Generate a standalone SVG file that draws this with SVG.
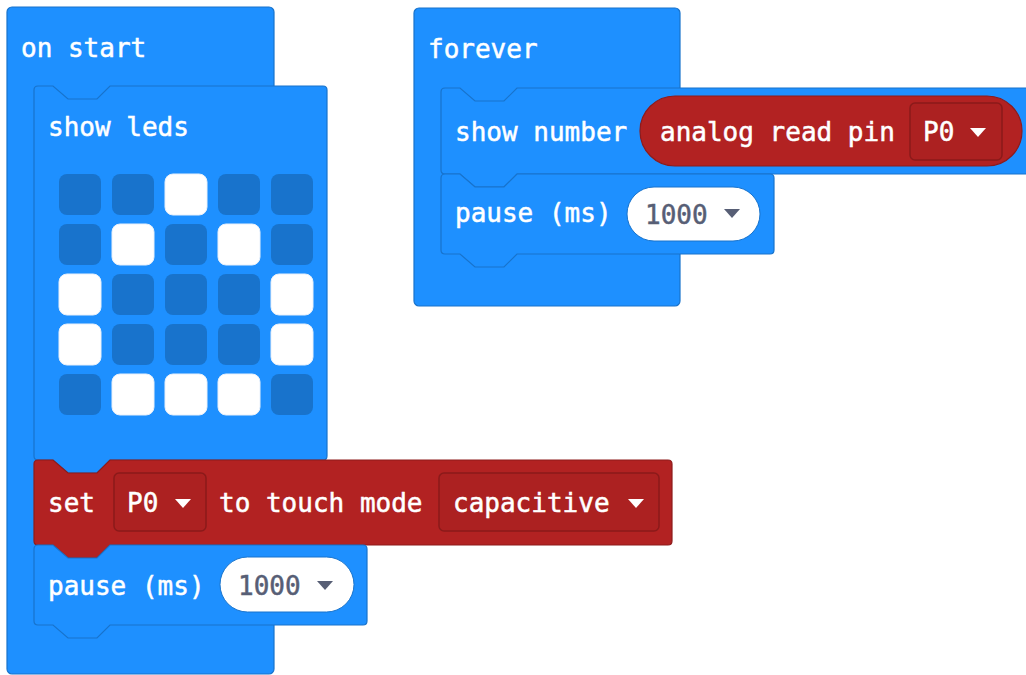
<svg xmlns="http://www.w3.org/2000/svg" width="1026" height="675" viewBox="0 0 1026 675">
<style>
.blue{fill:#1E90FF;stroke:#1873CC;stroke-width:1.2}
.red{fill:#B22222;stroke:#8E1B1B;stroke-width:1.2}
.dd{fill:#AC2121;stroke:#8B1A1A;stroke-width:1.5}
.pill{fill:#FFFFFF;stroke:#1873CC;stroke-width:1}
.t{font-family:"DejaVu Sans Mono","Liberation Mono",monospace;font-size:26px;fill:#FFFFFF;stroke:#FFFFFF;stroke-width:0.5}
.n{font-family:"DejaVu Sans Mono","Liberation Mono",monospace;font-size:26px;fill:#575E75;stroke:#575E75;stroke-width:0.5}
.off{fill:#1873CC}
.on{fill:#FFFFFF;stroke:#E8F0FA;stroke-width:1}
.tri{fill:#FFFFFF}
.trid{fill:#575E75}
</style>
<rect width="1026" height="675" fill="#FFFFFF"/>

<g id="on-start">
<rect class="blue" x="7" y="7" width="267" height="667" rx="5"/>
<text class="t" x="21" y="57">on start</text>
</g>

<g id="show-leds">
<path class="blue" d="M34 90 Q34 86 38 86 H53 l15 13 h29 l13 -13 H323 Q327 86 327 90 V456 Q327 460 323 460 H110 l-13 13 h-29 l-15 -13 H38 Q34 460 34 456 Z"/>
<text class="t" x="48" y="136">show leds</text>
<g id="leds">
<rect class="off" x="59" y="174" width="42" height="41" rx="8"/>
<rect class="off" x="112" y="174" width="42" height="41" rx="8"/>
<rect class="on" x="165" y="174" width="42" height="41" rx="8"/>
<rect class="off" x="218" y="174" width="42" height="41" rx="8"/>
<rect class="off" x="271" y="174" width="42" height="41" rx="8"/>
<rect class="off" x="59" y="224" width="42" height="41" rx="8"/>
<rect class="on" x="112" y="224" width="42" height="41" rx="8"/>
<rect class="off" x="165" y="224" width="42" height="41" rx="8"/>
<rect class="on" x="218" y="224" width="42" height="41" rx="8"/>
<rect class="off" x="271" y="224" width="42" height="41" rx="8"/>
<rect class="on" x="59" y="274" width="42" height="41" rx="8"/>
<rect class="off" x="112" y="274" width="42" height="41" rx="8"/>
<rect class="off" x="165" y="274" width="42" height="41" rx="8"/>
<rect class="off" x="218" y="274" width="42" height="41" rx="8"/>
<rect class="on" x="271" y="274" width="42" height="41" rx="8"/>
<rect class="on" x="59" y="324" width="42" height="41" rx="8"/>
<rect class="off" x="112" y="324" width="42" height="41" rx="8"/>
<rect class="off" x="165" y="324" width="42" height="41" rx="8"/>
<rect class="off" x="218" y="324" width="42" height="41" rx="8"/>
<rect class="on" x="271" y="324" width="42" height="41" rx="8"/>
<rect class="off" x="59" y="374" width="42" height="41" rx="8"/>
<rect class="on" x="112" y="374" width="42" height="41" rx="8"/>
<rect class="on" x="165" y="374" width="42" height="41" rx="8"/>
<rect class="on" x="218" y="374" width="42" height="41" rx="8"/>
<rect class="off" x="271" y="374" width="42" height="41" rx="8"/>
</g>
</g>

<g id="set-touch-mode">
<path class="red" d="M34 464 Q34 460 38 460 H53 l15 13 h29 l13 -13 H668 Q672 460 672 464 V541 Q672 545 668 545 H110 l-13 13 h-29 l-15 -13 H38 Q34 545 34 541 Z"/>
<text class="t" x="48" y="512">set</text>
<rect class="dd" x="114" y="473" width="92" height="58" rx="5"/>
<text class="t" x="127" y="512">P0</text>
<path class="tri" d="M175 499 H191 L183 508 Z"/>
<text class="t" x="219" y="512">to touch mode</text>
<rect class="dd" x="439" y="473" width="220" height="58" rx="5"/>
<text class="t" x="453" y="512">capacitive</text>
<path class="tri" d="M628 499 H644 L636 508 Z"/>
</g>

<g id="pause-start">
<path class="blue" d="M34 549 Q34 545 38 545 H53 l15 13 h29 l13 -13 H363 Q367 545 367 549 V621 Q367 625 363 625 H110 l-13 13 h-29 l-15 -13 H38 Q34 625 34 621 Z"/>
<text class="t" x="48" y="595">pause (ms)</text>
<rect class="pill" x="220" y="557" width="134" height="55" rx="27.5"/>
<text class="n" x="238" y="595">1000</text>
<path class="trid" d="M317 581 H333 L325 590 Z"/>
</g>

<g id="forever">
<rect class="blue" x="414" y="8" width="266" height="298" rx="5"/>
<text class="t" x="428" y="58">forever</text>
</g>

<g id="show-number">
<path class="blue" d="M441 92 Q441 88 445 88 H460 l15 13 h29 l13 -13 H1040 V174 H517 l-13 13 h-29 l-15 -13 H445 Q441 174 441 170 Z"/>
<text class="t" x="455" y="141">show number</text>
<rect class="red" x="640" y="96" width="382" height="70" rx="35"/>
<text class="t" x="660" y="141">analog read pin</text>
<rect class="dd" x="910" y="103" width="92" height="57" rx="5"/>
<text class="t" x="923" y="141">P0</text>
<path class="tri" d="M970 128 H986 L978 137 Z"/>
</g>

<g id="pause-forever">
<path class="blue" d="M441 178 Q441 174 445 174 H460 l15 13 h29 l13 -13 H770 Q774 174 774 178 V250 Q774 254 770 254 H517 l-13 13 h-29 l-15 -13 H445 Q441 254 441 250 Z"/>
<text class="t" x="455" y="222">pause (ms)</text>
<rect class="pill" x="627" y="187" width="133" height="54" rx="27"/>
<text class="n" x="645" y="224">1000</text>
<path class="trid" d="M724 209 H740 L732 218 Z"/>
</g>

<g id="connectors"></g>
</svg>
